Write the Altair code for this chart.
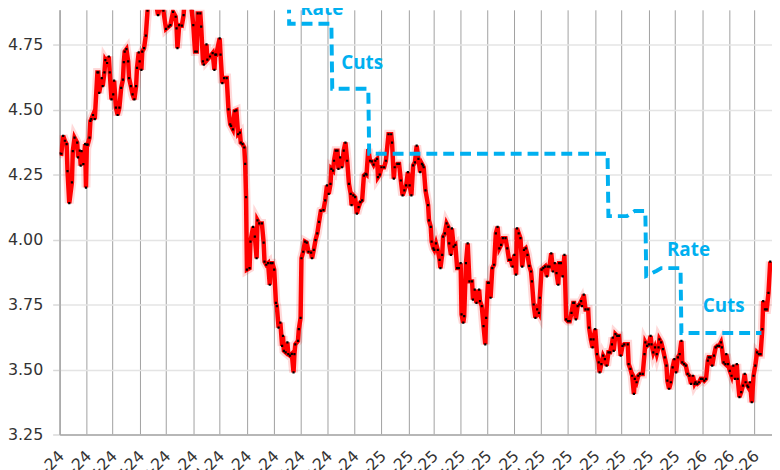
import altair as alt
import pandas as pd

# ---- data (days since 2024-01-01, yield %) ----
yield_day = [0, 2, 4, 6, 8, 9, 11, 14, 15, 17, 20, 21, 23, 24, 25, 27, 29, 30, 31, 32, 34, 35, 36, 38, 40,
             43, 44, 45, 48, 49, 51, 52, 54, 56, 57, 59, 61, 62, 64, 66, 68, 70, 72, 73, 74, 76, 78, 79,
             81, 83, 85, 87, 88, 90, 91, 93, 94, 96, 98, 100, 101, 104, 107, 109, 112, 114, 116, 118,
             121, 124, 126, 129, 132, 133, 134, 136, 139, 141, 142, 145, 148, 150, 152, 154, 156, 157,
             160, 161, 163, 164, 167, 168, 171, 174, 176, 177, 178, 182, 183, 185, 187, 190, 192, 194,
             195, 197, 199, 201, 203, 205, 206, 208, 210, 211, 212, 213, 216, 217, 220, 222, 224, 225,
             227, 230, 232, 233, 235, 237, 239, 240, 242, 244, 246, 247, 249, 251, 253, 254, 255, 257,
             259, 260, 262, 264, 266, 267, 268, 271, 272, 274, 275, 277, 279, 281, 283, 286, 287, 289,
             291, 293, 295, 297, 300, 302, 304, 306, 308, 309, 311, 312, 314, 316, 317, 319, 321, 323,
             325, 327, 329, 331, 332, 334, 336, 338, 340, 342, 344, 346, 348, 349, 351, 353, 355, 357,
             359, 361, 362, 364, 366, 369, 371, 374, 377, 378, 380, 381, 384, 386, 388, 390, 392, 394,
             396, 398, 400, 402, 404, 406, 408, 410, 412, 413, 414, 416, 419, 420, 422, 423, 425, 426,
             428, 430, 432, 433, 435, 436, 438, 440, 442, 443, 445, 446, 448, 450, 452, 454, 456, 457,
             459, 460, 462, 464, 466, 469, 470, 472, 474, 477, 478, 480, 482, 484, 485, 487, 488, 490,
             492, 494, 496, 498, 500, 502, 504, 507, 509, 511, 513, 515, 517, 519, 520, 522, 524, 526,
             528, 530, 532, 534, 536, 537, 539, 541, 543, 545, 546, 548, 550, 552, 554, 555, 557, 559,
             561, 563, 565, 567, 568, 570, 572, 574, 576, 578, 580, 582, 584, 585, 587, 589, 591, 593,
             594, 596, 598, 601, 602, 604, 606, 607, 609, 611, 613, 614, 616, 618, 620, 622, 624, 626,
             628, 629, 630, 632, 634, 636, 638, 640, 642, 646, 647, 649, 651, 653, 654, 656, 658, 660,
             663, 665, 666, 668, 670, 672, 673, 675, 677, 679, 681, 682, 684, 686, 688, 690, 691, 693,
             695, 697, 699, 701, 703, 705, 707, 708, 710, 712, 714, 716, 718, 720, 722, 723, 725, 727,
             729, 731, 733, 735, 737, 738, 740, 742, 744, 746, 748, 750, 752, 753, 755, 757, 758, 760,
             762, 764, 766, 768, 770, 771, 773, 775, 777, 779, 780, 782, 783, 785, 787, 789, 791, 793,
             795, 797, 799, 800, 802, 804, 806, 808]
yield_val = [4.331, 4.33, 4.399, 4.38, 4.367, 4.263, 4.14, 4.22, 4.34, 4.392, 4.373, 4.316, 4.342, 4.284,
             4.34, 4.29, 4.367, 4.20, 4.365, 4.365, 4.392, 4.456, 4.463, 4.479, 4.463,
             4.643, 4.643, 4.564, 4.621, 4.59, 4.643, 4.69, 4.679, 4.704, 4.643, 4.539, 4.558, 4.611,
             4.507, 4.479, 4.507, 4.583, 4.615, 4.682, 4.723, 4.732, 4.685, 4.621,
             4.59, 4.558, 4.539, 4.59, 4.66, 4.72, 4.685, 4.653, 4.723, 4.736, 4.784, 4.88, 4.93, 4.97,
             4.95, 4.92, 4.863, 4.90, 4.93, 4.88,
             4.81, 4.819, 4.825, 4.876, 4.857, 4.812, 4.736, 4.825, 4.823, 4.863, 4.92, 4.95, 4.92,
             4.889, 4.825, 4.723, 4.723, 4.87,
             4.87, 4.819, 4.685, 4.673, 4.751, 4.692, 4.704, 4.717, 4.653, 4.711, 4.711, 4.774, 4.711,
             4.602, 4.621, 4.621, 4.501, 4.443,
             4.437, 4.424, 4.494, 4.497, 4.405, 4.411, 4.373, 4.367, 4.354, 4.291, 4.163, 3.884, 3.89,
             3.992, 4.049, 4.011, 3.928, 4.074,
             4.062, 4.062, 3.988, 3.915, 3.903, 3.909, 3.826, 3.909, 3.909, 3.884, 3.756, 3.744, 3.661,
             3.68, 3.591, 3.629, 3.572, 3.566,
             3.604, 3.559, 3.553, 3.56, 3.489, 3.559, 3.597, 3.61, 3.655, 3.699, 3.928, 3.953, 3.992,
             3.988, 3.953, 3.95, 3.928, 3.96,
             3.998, 4.024, 4.068, 4.11, 4.113, 4.151, 4.208, 4.176, 4.214, 4.272, 4.265, 4.303, 4.342,
             4.342, 4.272, 4.316, 4.278, 4.342,
             4.373, 4.303, 4.214, 4.176, 4.132, 4.17, 4.163, 4.10, 4.125, 4.144, 4.151, 4.246, 4.253,
             4.25, 4.348, 4.303, 4.301, 4.288,
             4.303, 4.31, 4.24, 4.25, 4.278, 4.278, 4.303, 4.405, 4.405, 4.373, 4.234, 4.278, 4.291,
             4.291, 4.227, 4.17, 4.189, 4.208,
             4.259, 4.208, 4.17, 4.285, 4.297, 4.361, 4.31, 4.259, 4.291, 4.285, 4.278, 4.189, 4.132,
             4.074, 4.049, 3.992, 3.966, 3.96,
             3.985, 3.96, 3.922, 3.89, 3.941, 4.011, 4.024, 4.062, 4.049, 3.985, 3.941, 4.043, 3.973,
             3.979, 3.89, 3.89, 3.909, 3.712,
             3.68, 3.705, 3.909, 3.985, 3.839, 3.839, 3.769, 3.807, 3.756, 3.807, 3.763, 3.744, 3.667,
             3.597, 3.699, 3.833, 3.833, 3.776,
             3.89, 3.903, 4.024, 4.049, 3.966, 3.979, 4.005, 4.005, 3.966, 3.922, 3.922, 3.896, 3.941,
             3.865, 4.043, 4.024, 4.005, 3.896,
             3.96, 3.966, 3.941, 3.899, 3.877, 3.839, 3.75, 3.699, 3.731, 3.718, 3.776, 3.884, 3.89,
             3.896, 3.858, 3.896, 3.896, 3.947,
             3.877, 3.909, 3.871, 3.826, 3.909, 3.909, 3.858, 3.941, 3.693, 3.686, 3.686, 3.718, 3.756,
             3.756, 3.693, 3.744, 3.75, 3.763,
             3.744, 3.788, 3.731, 3.731, 3.661, 3.616, 3.585, 3.616, 3.655, 3.559, 3.527, 3.489, 3.521,
             3.553, 3.54, 3.515, 3.566, 3.566,
             3.597, 3.623, 3.572, 3.636, 3.629, 3.629, 3.553, 3.591, 3.597, 3.597, 3.521, 3.502, 3.476,
             3.406, 3.464, 3.451, 3.476, 3.483,
             3.483, 3.559, 3.604, 3.591, 3.597, 3.629, 3.597, 3.566, 3.585, 3.559, 3.585, 3.616, 3.604,
             3.578, 3.547, 3.515, 3.457, 3.426,
             3.451, 3.508, 3.54, 3.489, 3.547, 3.559, 3.61, 3.527, 3.521, 3.515, 3.483, 3.476, 3.445,
             3.476, 3.445, 3.451, 3.445, 3.451,
             3.464, 3.464, 3.457, 3.464, 3.534, 3.547, 3.547, 3.515, 3.553, 3.585, 3.591, 3.591, 3.604,
             3.585, 3.527, 3.521, 3.559, 3.521,
             3.495, 3.476, 3.515, 3.464, 3.521, 3.464, 3.394, 3.413, 3.438, 3.483, 3.451, 3.438, 3.432,
             3.451, 3.374, 3.476, 3.515, 3.566,
             3.559, 3.559, 3.655, 3.763, 3.731, 3.731, 3.795, 3.915]

# policy rate (dashed step line)
rate_day = [0, 260, 261, 309, 310, 351, 352, 623, 624, 645, 654, 666, 667, 679, 684, 706, 707, 798]
rate_val = [5.33, 5.33, 4.83, 4.83, 4.58, 4.58, 4.33, 4.33, 4.09, 4.09, 4.11, 4.11, 3.86, 3.88,
            3.89, 3.89, 3.64, 3.64]

# annotations
note_text = ["Rate", "Cuts", "Rate", "Cuts"]
note_day = [298, 344, 715, 755]
note_val = [4.862, 4.655, 3.935, 3.723]

y_ticks = [3.25, 3.50, 3.75, 4.00, 4.25, 4.50, 4.75]

start = pd.Timestamp("2024-01-01")


def iso(days):
    return [(start + pd.Timedelta(days=d)).strftime("%Y-%m-%dT%H:%M:%S") for d in days]


yld = pd.DataFrame({"date": iso(yield_day), "value": yield_val})
rate = pd.DataFrame({"date": iso(rate_day), "value": rate_val})
notes = pd.DataFrame({"date": iso(note_day), "value": note_val, "text": note_text})

x_scale = alt.Scale(domain=[alt.DateTime(year=2024, month=1, date=1),
                            alt.DateTime(year=2026, month=3, date=21)])
y_scale = alt.Scale(domain=[3.25, 4.8836], nice=False, zero=False)

x_enc = alt.X("date:T", scale=x_scale, title=None,
              axis=alt.Axis(tickCount=alt.TimeIntervalStep(interval="month", step=1),
                            format="%b-%y", labelAngle=-45,
                            labelAlign="right", labelBaseline="top", labelPadding=13,
                            labelOffset=-4,
                            labelOverlap=False, labelBound=False, labelFlush=False,
                            grid=True, gridColor="#a0a0a0", gridWidth=1, ticks=False,
                            domainColor="#a6a6a6", domainWidth=1.5,
                            labelFont="DejaVu Sans", labelFontSize=16, labelColor="#333333"))
y_enc = alt.Y("value:Q", scale=y_scale, title=None,
              axis=alt.Axis(values=y_ticks, format=".2f", grid=True, gridColor="#e4e4e4",
                            gridWidth=1.5, tickColor="#d9d9d9", tickSize=7, tickWidth=1.5,
                            domainColor="#a6a6a6", domainWidth=1.5, labelPadding=10,
                            labelFont="DejaVu Sans", labelFontSize=16, labelColor="#333333"))

glow = alt.Chart(yld).mark_line(color="#ff0000", strokeWidth=9, opacity=0.15, clip=True).encode(
    x=x_enc, y=y_enc)
line = alt.Chart(yld).mark_line(color="#ff0000", strokeWidth=4.5, clip=True).encode(
    x="date:T", y="value:Q")
dots = alt.Chart(yld).mark_point(shape="square", filled=True, color="#000000", size=5,
                                 opacity=1, clip=True).encode(x="date:T", y="value:Q")
rate_line = alt.Chart(rate).mark_line(color="#00b0f0", strokeWidth=4, strokeDash=[11, 6],
                                      clip=True).encode(x="date:T", y="value:Q")
labels = alt.Chart(notes).mark_text(color="#00b0f0", font="Open Sans", fontWeight="bold",
                                    fontSize=19, align="center", baseline="alphabetic").encode(
    x="date:T", y="value:Q", text="text:N")

chart = alt.layer(glow, line, dots, rate_line, labels).properties(
    width=718, height=428,
    autosize=alt.AutoSizeParams(type="none"),
    padding={"left": 52, "top": 0, "right": 0, "bottom": 40},
    background="white",
).configure_view(strokeWidth=0)

chart.save("out.html", embed_options={"renderer": "svg", "actions": False})
